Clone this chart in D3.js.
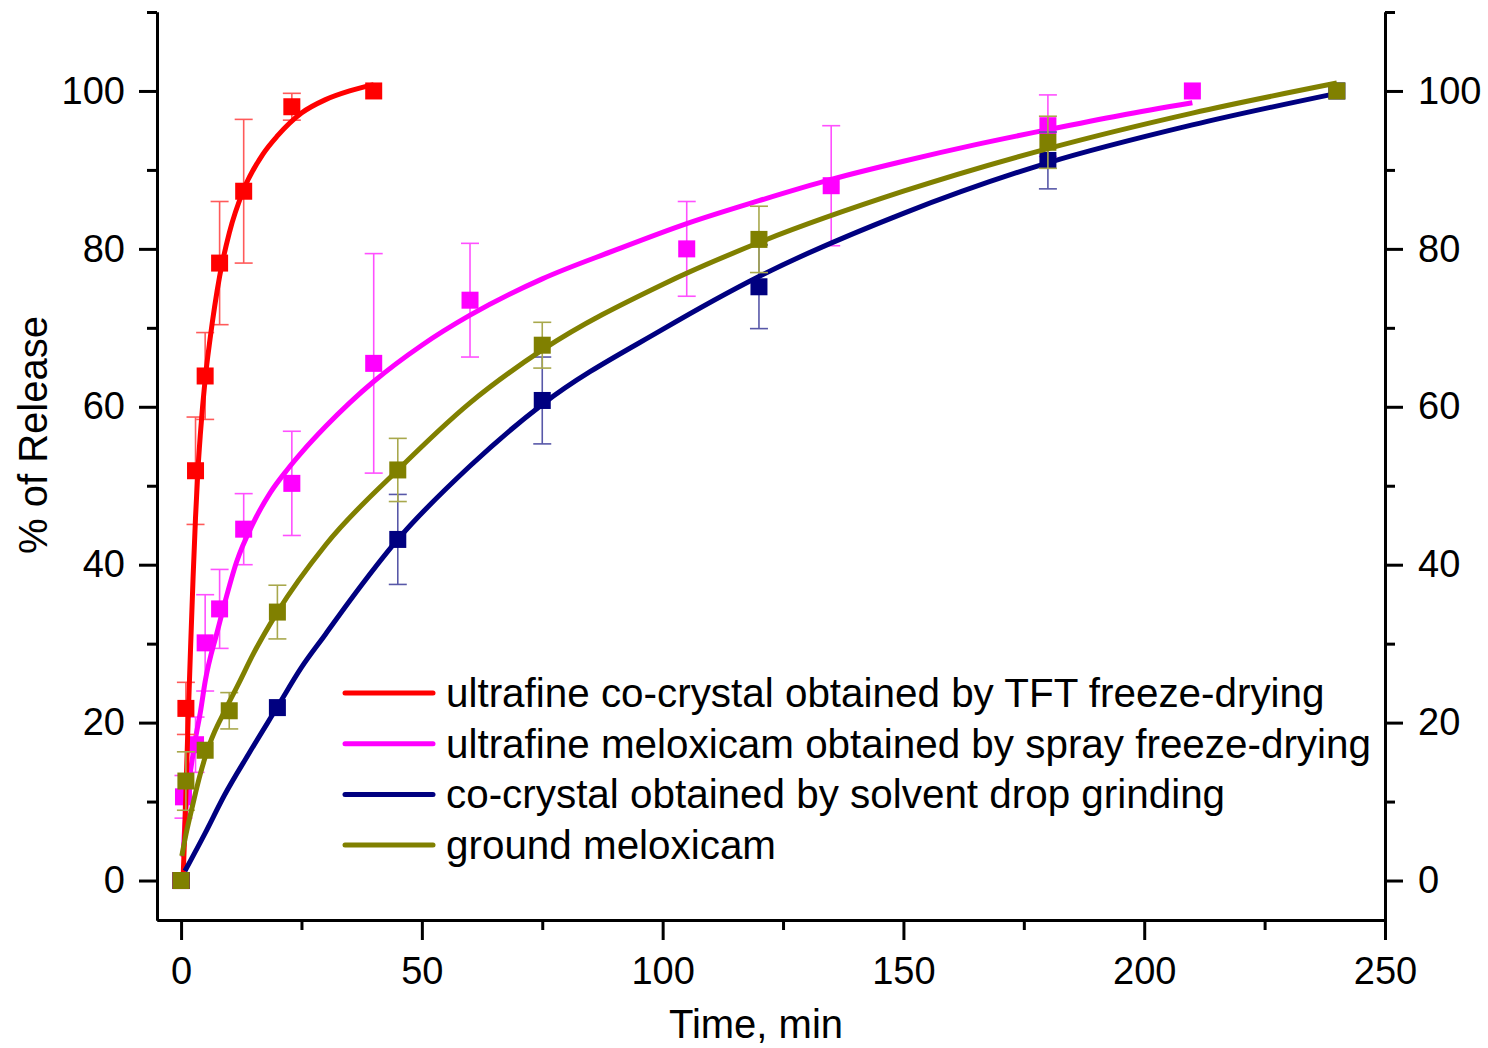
<!DOCTYPE html>
<html>
<head>
<meta charset="utf-8">
<script src="https://cdn.jsdelivr.net/npm/d3@7"></script>
<style>
  html, body { margin: 0; padding: 0; background: #fff; }
  svg { display: block; font-family: "Liberation Sans", Arial, sans-serif; }
</style>
</head>
<body>
<svg id="chart" width="1488" height="1048"></svg>
<script>
// ---------- data ----------
const legendLabels = [
  "ultrafine co-crystal obtained by TFT freeze-drying",
  "ultrafine meloxicam obtained by spray freeze-drying",
  "co-crystal obtained by solvent drop grinding",
  "ground meloxicam"
];
const seriesColors = ["#ff0000", "#ff00ff", "#000080", "#808000"];
const errorColors  = ["#ff5a5a", "#ff50ff", "#5858a8", "#a8a84c"];

// measured points: time (min), % release, error
const redTime = [0, 1, 3, 5, 8, 13, 23, 40];
const redValue = [0, 21.8, 51.9, 63.9, 78.2, 87.3, 98.0, 100];
const redError = [0, 3.3, 6.8, 5.5, 7.8, 9.1, 1.7, 0];

const magentaTime = [0, 0.5, 3, 5, 8, 13, 23, 40, 60, 105, 135, 180, 210];
const magentaValue = [0, 10.6, 17.2, 30.1, 34.4, 44.5, 50.3, 65.5, 73.5, 80.0, 88.0, 95.6, 100];
const magentaError = [0, 2.7, 3.5, 6.1, 5.0, 4.5, 6.6, 13.9, 7.2, 6.0, 7.6, 3.9, 0];

const navyTime = [0, 20, 45, 75, 120, 180, 240];
const navyValue = [0, 21.9, 43.2, 60.8, 75.2, 91.2, 100];
const navyError = [0, 0, 5.7, 5.5, 5.3, 3.6, 0];

const oliveTime = [0, 1, 5, 10, 20, 45, 75, 120, 180, 240];
const oliveValue = [0, 12.6, 16.5, 21.5, 34.0, 52.0, 67.8, 81.2, 93.5, 100];
const oliveError = [0, 3.7, 0, 2.3, 3.4, 4.0, 2.9, 4.2, 3.3, 0];

// fitted curves
const redFitTime = [0.4, 0.7, 1, 1.5, 2, 2.5, 3, 3.5, 4, 5, 6, 8, 10, 13, 17, 20, 25, 30, 35, 40];
const redFitValue = [0, 5, 11, 21, 30, 38.5, 46, 52, 56.5, 63.5, 68.5, 76.5, 82, 87.5, 92, 94.3, 97.2, 98.9, 100, 100.8];

const magentaFitTime = [0.4, 1, 2, 3, 4, 5, 7.5, 9, 11.5, 15, 18.5, 22, 25, 30, 35, 40, 50, 60, 75, 90, 105, 120, 135, 150, 165, 180, 195, 210];
const magentaFitValue = [3, 9, 14, 18, 21.3, 25.2, 31.5, 35, 40.3, 45.3, 49.1, 52, 54.2, 57.5, 60.5, 63.2, 67.8, 71.6, 76.2, 79.8, 83.2, 86.1, 88.8, 91.1, 93.2, 95.1, 96.9, 98.5];

const navyFitTime = [0.8, 5, 9, 14, 20, 25, 30, 35, 45, 60, 75, 100, 120, 150, 180, 210, 240];
const navyFitValue = [1.2, 6, 10.8, 16, 22, 27, 31.2, 35.4, 43.2, 52.5, 60.3, 69.8, 76.5, 84.5, 90.9, 95.7, 99.7];

const oliveFitTime = [0.15, 1, 2, 3, 4, 5, 6, 7, 9, 12, 15, 20, 30, 45, 60, 75, 100, 120, 150, 180, 210, 240];
const oliveFitValue = [3.1, 5.8, 8.5, 11.1, 13.5, 15.6, 17.4, 18.9, 21.4, 25, 28.7, 34, 42.5, 52, 60.5, 67.2, 75.5, 80.8, 87.3, 92.7, 97.2, 101];

// axis ticks
const xMajorTicks = [0, 50, 100, 150, 200, 250];
const xMinorTicks = [25, 75, 125, 175, 225];
const yMajorTicks = [0, 20, 40, 60, 80, 100];
const yMinorTicks = [10, 30, 50, 70, 90, 110];
const xTitle = "Time, min";
const yTitle = "% of Release";

// ---------- build ----------
const series = [
  {name: legendLabels[0], color: seriesColors[0], err: errorColors[0], t: redTime, v: redValue, e: redError, ft: redFitTime, fv: redFitValue},
  {name: legendLabels[1], color: seriesColors[1], err: errorColors[1], t: magentaTime, v: magentaValue, e: magentaError, ft: magentaFitTime, fv: magentaFitValue},
  {name: legendLabels[2], color: seriesColors[2], err: errorColors[2], t: navyTime, v: navyValue, e: navyError, ft: navyFitTime, fv: navyFitValue},
  {name: legendLabels[3], color: seriesColors[3], err: errorColors[3], t: oliveTime, v: oliveValue, e: oliveError, ft: oliveFitTime, fv: oliveFitValue}
];

const svg = d3.select("#chart");
const x = d3.scaleLinear().domain([-5, 250]).range([157, 1385]);
const y = d3.scaleLinear().domain([-5, 110]).range([920, 12]);

const tickFont = 38;

function styleAxis(g) {
  g.select(".domain").attr("stroke", "#000").attr("stroke-width", 3);
  g.selectAll(".tick line").attr("stroke", "#000").attr("stroke-width", 3);
  g.selectAll(".tick text").attr("font-size", tickFont).attr("fill", "#000")
    .attr("font-family", "'Liberation Sans', Arial, sans-serif");
}

// left axis
svg.append("g").attr("transform", "translate(157,0)")
  .call(d3.axisLeft(y).tickValues(yMinorTicks).tickSize(10).tickSizeOuter(0).tickFormat(""))
  .call(styleAxis);
svg.append("g").attr("transform", "translate(157,0)")
  .call(d3.axisLeft(y).tickValues(yMajorTicks).tickSize(18).tickPadding(14).tickSizeOuter(0))
  .call(styleAxis);
// right axis
svg.append("g").attr("transform", "translate(1385,0)")
  .call(d3.axisRight(y).tickValues(yMinorTicks).tickSize(10).tickSizeOuter(0).tickFormat(""))
  .call(styleAxis);
svg.append("g").attr("transform", "translate(1385,0)")
  .call(d3.axisRight(y).tickValues(yMajorTicks).tickSize(18).tickPadding(15).tickSizeOuter(0))
  .call(styleAxis);
// bottom axis
svg.append("g").attr("transform", "translate(0,920)")
  .call(d3.axisBottom(x).tickValues(xMinorTicks).tickSize(10).tickSizeOuter(0).tickFormat(""))
  .call(styleAxis);
svg.append("g").attr("transform", "translate(0,920)")
  .call(d3.axisBottom(x).tickValues(xMajorTicks).tickSize(20).tickPadding(17).tickSizeOuter(0))
  .call(styleAxis);

// titles
svg.append("text").attr("x", 756).attr("y", 1038).attr("text-anchor", "middle")
  .attr("font-size", 40).text(xTitle);
svg.append("text").attr("transform", "translate(47,435) rotate(-90)").attr("text-anchor", "middle")
  .attr("font-size", 40).text(yTitle);

// series (draw order so overlaps resemble the reference)
const drawOrder = [1, 0, 2, 3];
const line = d3.line().x(d => x(d[0])).y(d => y(d[1])).curve(d3.curveMonotoneX);
const ms = 17, cap = 9;

drawOrder.forEach(i => {
  const s = series[i];
  const g = svg.append("g");
  const pts = s.t.map((t, k) => ({t, v: s.v[k], e: s.e[k]}));
  // error bars
  const eb = g.append("g").attr("stroke", s.err).attr("stroke-width", 1.6).attr("fill", "none");
  pts.filter(p => p.e > 0).forEach(p => {
    const cx = x(p.t), y1 = y(p.v + p.e), y2 = y(p.v - p.e);
    eb.append("line").attr("x1", cx).attr("x2", cx).attr("y1", y1).attr("y2", y2);
    eb.append("line").attr("x1", cx - cap).attr("x2", cx + cap).attr("y1", y1).attr("y2", y1);
    eb.append("line").attr("x1", cx - cap).attr("x2", cx + cap).attr("y1", y2).attr("y2", y2);
  });
  // fitted curve
  g.append("path").datum(s.ft.map((t, k) => [t, s.fv[k]]))
    .attr("d", line).attr("fill", "none").attr("stroke", s.color).attr("stroke-width", 5)
    .attr("stroke-linejoin", "round");
  // markers
  g.selectAll("rect.m").data(pts).enter().append("rect")
    .attr("x", p => x(p.t) - ms / 2).attr("y", p => y(p.v) - ms / 2)
    .attr("width", ms).attr("height", ms).attr("fill", s.color);
});

// legend
const lg = svg.append("g");
series.forEach((s, i) => {
  const ly = 693 + i * 50.7;
  lg.append("line").attr("x1", 345).attr("x2", 433).attr("y1", ly).attr("y2", ly)
    .attr("stroke", s.color).attr("stroke-width", 5).attr("stroke-linecap", "round");
  lg.append("text").attr("x", 446).attr("y", ly + 14).attr("font-size", 40.4).attr("fill", "#000").text(s.name);
});
</script>
</body>
</html>
